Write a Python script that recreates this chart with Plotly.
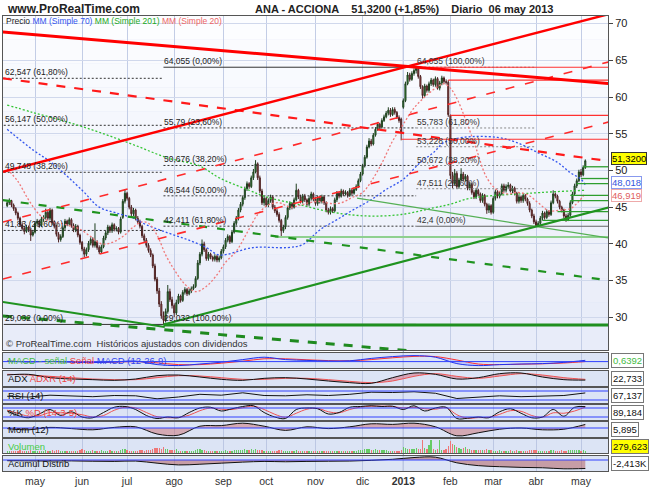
import numpy as np
import pandas as pd
import plotly.graph_objects as go

FONT = "Liberation Sans, Arial, sans-serif"

# ---------------- calendar (trading days, Madrid holidays removed) ----------------
HOLIDAYS = ["2012-05-01", "2012-12-25", "2012-12-26", "2013-01-01",
            "2013-03-29", "2013-04-01", "2013-05-01"]
DATES = pd.bdate_range("2012-04-12", "2013-05-06")
DATES = DATES[~DATES.isin(pd.to_datetime(HOLIDAYS))]
N = len(DATES)
IDX = list(range(N))
MONTH_LABELS = ["may", "jun", "jul", "ago", "sep", "oct", "nov", "dic",
                "<b>2013</b>", "feb", "mar", "abr", "may"]
MONTH_STARTS = [i for i in range(1, N) if DATES[i].month != DATES[i - 1].month]

# ---------------- daily prices ----------------
OPEN = [45.2, 45.6, 45.9, 45.3, 44.8, 44.2, 43.5, 42.6, 42.1, 41.7,
        42.3, 41.9, 41.2, 41.6, 42.8, 43.1, 42.5, 43.4, 43.6, 44.3,
        43.5, 44.6, 42.9, 42.4, 41.3, 40.6, 41.0, 42.2, 43.1, 42.7,
        43.3, 42.5, 41.9, 42.4, 41.2, 40.2, 39.3, 38.6, 39.2, 40.1,
        40.6, 39.8, 40.3, 39.5, 38.9, 39.6, 40.8, 41.5, 42.3, 41.8,
        42.6, 42.0, 42.1, 41.6, 43.6, 45.8, 46.9, 46.2, 45.0, 44.1,
        44.6, 43.5, 43.0, 42.4, 41.1, 40.5, 39.8, 39.1, 38.5, 37.0,
        35.2, 33.6, 31.8, 30.2, 29.6, 30.8, 33.5, 32.4, 31.6, 30.6,
        32.0, 32.9, 32.3, 33.4, 33.8, 33.2, 33.6, 33.9, 34.2, 35.3,
        37.4, 38.6, 40.0, 39.2, 38.0, 38.6, 38.2, 37.9, 38.3, 37.8,
        38.1, 39.0, 39.6, 40.5, 41.0, 40.3, 41.6, 42.8, 43.5, 44.6,
        45.4, 46.3, 47.5, 48.2, 47.8, 49.0, 49.8, 50.9, 49.0, 47.2,
        45.6, 46.2, 45.3, 45.9, 46.4, 45.0, 44.5, 44.0, 43.2, 41.8,
        42.3, 43.6, 44.9, 45.5, 45.0, 46.0, 47.3, 46.4, 45.8, 46.5,
        46.0, 45.4, 46.2, 46.8, 46.1, 45.5, 46.3, 45.8, 46.4, 45.6,
        44.6, 44.3, 44.8, 44.5, 46.0, 46.9, 46.5, 47.2, 46.8, 47.0,
        46.6, 47.3, 46.9, 47.4, 47.8, 48.6, 49.5, 50.6, 51.8, 53.2,
        54.0, 53.6, 54.8, 55.6, 56.3, 55.9, 56.8, 57.3, 57.8, 58.2,
        57.6, 58.3, 57.9, 57.2, 57.0, 58.6, 59.5, 61.8, 63.0, 62.4,
        63.2, 63.6, 63.9, 62.8, 61.4, 60.2, 61.5, 60.9, 61.8, 62.3,
        61.7, 62.5, 61.2, 61.9, 62.6, 62.1, 62.0, 57.5, 49.3, 48.2,
        49.6, 47.8, 48.7, 49.5, 48.8, 49.2, 47.6, 48.1, 47.0, 46.4,
        47.3, 46.8, 45.9, 46.6, 45.4, 44.6, 45.2, 44.3, 46.2, 47.1,
        46.5, 46.8, 47.9, 47.3, 47.8, 48.0, 47.2, 47.6, 46.9, 45.8,
        46.4, 45.9, 46.6, 46.1, 45.5, 44.6, 43.8, 43.0, 42.5, 42.8,
        43.5, 44.2, 43.6, 44.4, 44.0, 45.6, 46.8, 46.5, 45.8, 45.0,
        44.6, 43.8, 43.3, 43.9, 45.6, 46.8, 47.9, 48.6, 49.8, 49.4,
        50.4]
HIGH = [45.9, 46.2, 46.0, 45.5, 45.0, 44.4, 43.7, 42.9, 42.4, 42.6,
        42.5, 42.1, 41.9, 43.1, 43.4, 43.3, 43.7, 43.9, 44.8, 44.5,
        44.9, 44.8, 43.2, 42.6, 41.6, 41.3, 42.5, 43.4, 43.3, 43.6,
        43.5, 42.8, 42.7, 42.6, 41.4, 40.4, 39.6, 39.5, 40.4, 40.9,
        40.9, 42.8, 40.5, 39.8, 39.9, 41.1, 41.8, 42.6, 42.5, 42.9,
        42.8, 42.4, 42.3, 43.7, 46.1, 47.4, 47.1, 46.4, 45.3, 44.9,
        44.8, 43.8, 43.3, 42.6, 41.4, 40.8, 40.1, 39.4, 38.7, 37.3,
        35.5, 34.0, 32.2, 30.8, 31.2, 34.4, 33.9, 32.8, 31.9, 32.4,
        33.2, 33.1, 33.7, 34.1, 34.0, 33.9, 34.2, 34.5, 35.6, 37.8,
        38.9, 40.6, 40.3, 39.4, 38.9, 38.8, 38.4, 38.6, 38.5, 38.4,
        39.3, 39.9, 40.8, 41.3, 41.2, 41.9, 43.1, 43.8, 44.9, 45.7,
        46.6, 47.8, 48.5, 48.4, 49.3, 50.2, 51.4, 51.1, 49.3, 47.5,
        46.5, 46.4, 46.2, 46.7, 46.6, 45.3, 44.8, 44.3, 43.4, 42.6,
        43.9, 45.2, 45.8, 45.7, 46.3, 48.2, 47.5, 46.7, 46.8, 46.8,
        46.2, 46.5, 47.1, 47.0, 46.4, 46.6, 46.5, 46.7, 46.6, 45.8,
        44.9, 45.1, 45.0, 46.3, 47.2, 47.1, 47.5, 47.4, 47.3, 47.2,
        47.6, 47.5, 47.7, 48.1, 48.9, 49.8, 50.9, 52.1, 53.5, 54.4,
        54.3, 55.1, 55.9, 56.6, 56.5, 57.1, 57.6, 58.1, 58.6, 58.5,
        58.6, 58.6, 58.1, 57.5, 57.2, 59.8, 62.1, 63.4, 63.3, 63.5,
        63.9, 64.055, 64.0, 63.0, 61.6, 61.8, 61.7, 62.1, 62.6, 62.5,
        62.8, 62.7, 62.2, 62.9, 62.8, 62.4, 62.3, 57.6, 49.8, 50.2,
        49.9, 49.0, 50.3, 49.8, 49.5, 49.4, 48.4, 48.3, 47.3, 47.6,
        47.5, 47.0, 46.9, 46.8, 45.6, 45.5, 45.4, 46.5, 47.4, 47.3,
        47.1, 48.2, 48.2, 48.1, 48.4, 48.2, 47.9, 47.8, 47.1, 46.7,
        46.6, 46.9, 46.8, 46.3, 45.8, 44.8, 44.1, 43.3, 43.1, 43.8,
        44.5, 44.4, 44.7, 44.6, 45.9, 47.3, 47.0, 46.7, 46.0, 45.2,
        44.8, 44.1, 44.2, 45.9, 47.1, 48.2, 48.9, 50.1, 50.2, 50.7,
        51.5]
LOW = [45.0, 45.3, 45.0, 44.5, 43.9, 43.2, 42.3, 41.8, 41.3, 41.5,
       41.6, 40.4, 41.0, 41.4, 42.5, 42.2, 42.3, 43.0, 43.3, 43.2,
       43.2, 42.6, 42.1, 41.0, 40.2, 40.3, 40.8, 41.9, 42.4, 42.4,
       42.2, 41.6, 41.6, 40.9, 39.9, 39.0, 38.2, 38.3, 38.9, 39.8,
       39.5, 39.5, 39.2, 38.6, 38.7, 39.4, 40.5, 41.2, 41.5, 41.5,
       41.7, 41.7, 41.3, 41.4, 43.4, 45.5, 45.9, 44.7, 43.8, 43.8,
       43.2, 42.7, 42.1, 40.8, 40.2, 39.5, 38.8, 38.2, 36.7, 34.9,
       33.2, 31.4, 29.8, 29.03, 29.3, 30.5, 32.1, 31.2, 30.0, 30.3,
       31.8, 32.0, 32.1, 33.1, 32.9, 33.0, 33.3, 33.7, 34.0, 35.1,
       37.1, 38.3, 38.9, 37.7, 37.7, 37.9, 37.6, 37.6, 37.5, 37.5,
       37.9, 38.7, 39.3, 40.2, 40.0, 40.1, 41.4, 42.5, 43.2, 44.3,
       45.1, 46.0, 47.2, 47.5, 47.6, 48.7, 49.6, 48.7, 46.9, 45.3,
       45.2, 45.0, 45.0, 45.6, 44.7, 44.2, 43.7, 42.9, 41.0, 41.5,
       42.0, 43.3, 44.6, 44.7, 44.8, 45.8, 46.1, 45.5, 45.5, 45.7,
       45.1, 45.1, 45.9, 45.8, 45.2, 45.2, 45.5, 45.5, 45.3, 44.3,
       44.0, 44.0, 44.2, 44.3, 45.7, 46.2, 46.3, 46.5, 46.6, 46.3,
       46.4, 46.6, 46.7, 47.2, 47.6, 48.4, 49.3, 50.4, 51.6, 53.0,
       53.3, 53.4, 54.6, 55.4, 55.6, 55.7, 56.6, 57.1, 57.5, 57.3,
       57.4, 57.6, 57.0, 56.5, 54.1, 58.4, 59.3, 61.6, 62.1, 62.2,
       62.9, 63.2, 62.5, 61.1, 59.8, 60.0, 60.6, 60.6, 61.5, 61.4,
       61.4, 61.0, 60.9, 61.6, 61.8, 61.7, 57.3, 48.8, 47.6, 48.0,
       47.5, 47.5, 48.5, 48.5, 48.5, 47.3, 47.3, 46.7, 46.1, 46.1,
       46.5, 45.6, 45.6, 45.1, 44.1, 44.2, 44.0, 44.1, 45.9, 46.2,
       46.2, 46.6, 47.0, 47.0, 47.5, 47.0, 46.9, 46.6, 45.5, 45.5,
       45.6, 45.6, 45.8, 45.2, 44.3, 43.5, 42.7, 42.4, 42.4, 42.6,
       43.2, 43.3, 43.4, 43.7, 43.8, 45.4, 46.2, 45.5, 44.7, 44.3,
       43.5, 43.0, 43.1, 43.7, 45.4, 46.6, 47.6, 48.4, 49.1, 49.2,
       50.2]
CLOSE = [45.6, 45.9, 45.3, 44.8, 44.2, 43.5, 42.6, 42.1, 41.7, 42.3,
         41.9, 41.2, 41.6, 42.8, 43.1, 42.5, 43.4, 43.6, 44.3, 43.5,
         44.6, 42.9, 42.4, 41.3, 40.6, 41.0, 42.2, 43.1, 42.7, 43.3,
         42.5, 41.9, 42.4, 41.2, 40.2, 39.3, 38.6, 39.2, 40.1, 40.6,
         39.8, 40.3, 39.5, 38.9, 39.6, 40.8, 41.5, 42.3, 41.8, 42.6,
         42.0, 42.1, 41.6, 43.4, 45.8, 46.9, 46.2, 45.0, 44.1, 44.6,
         43.5, 43.0, 42.4, 41.1, 40.5, 39.8, 39.1, 38.5, 37.0, 35.2,
         33.6, 31.8, 30.2, 29.6, 30.8, 33.5, 32.4, 31.6, 30.6, 32.0,
         32.9, 32.3, 33.4, 33.8, 33.2, 33.6, 33.9, 34.2, 35.3, 37.4,
         38.6, 40.0, 39.2, 38.0, 38.6, 38.2, 37.9, 38.3, 37.8, 38.1,
         39.0, 39.6, 40.5, 41.0, 40.3, 41.6, 42.8, 43.5, 44.6, 45.4,
         46.3, 47.5, 48.2, 47.8, 49.0, 49.8, 50.9, 49.0, 47.2, 45.6,
         46.2, 45.3, 45.9, 46.4, 45.0, 44.5, 44.0, 43.2, 41.8, 42.3,
         43.6, 44.9, 45.5, 45.0, 46.0, 47.3, 46.4, 45.8, 46.5, 46.0,
         45.4, 46.2, 46.8, 46.1, 45.5, 46.3, 45.8, 46.4, 45.6, 44.6,
         44.3, 44.8, 44.5, 46.0, 46.9, 46.5, 47.2, 46.8, 47.0, 46.6,
         47.3, 46.9, 47.4, 47.8, 48.6, 49.5, 50.6, 51.8, 53.2, 54.0,
         53.6, 54.8, 55.6, 56.3, 55.9, 56.8, 57.3, 57.8, 58.2, 57.6,
         58.3, 57.9, 57.2, 56.8, 55.2, 59.5, 61.8, 63.0, 62.4, 63.2,
         63.6, 63.9, 62.8, 61.4, 60.2, 61.5, 60.9, 61.8, 62.3, 61.7,
         62.5, 61.2, 61.9, 62.6, 62.1, 62.0, 57.6, 49.3, 48.2, 49.6,
         47.8, 48.7, 49.5, 48.8, 49.2, 47.6, 48.1, 47.0, 46.4, 47.3,
         46.8, 45.9, 46.6, 45.4, 44.6, 45.2, 44.3, 46.2, 47.1, 46.5,
         46.8, 47.9, 47.3, 47.8, 48.0, 47.2, 47.6, 46.9, 45.8, 46.4,
         45.9, 46.6, 46.1, 45.5, 44.6, 43.8, 43.0, 42.5, 42.8, 43.5,
         44.2, 43.6, 44.4, 44.0, 45.6, 46.8, 46.5, 45.8, 45.0, 44.6,
         43.8, 43.3, 43.9, 45.6, 46.8, 47.9, 48.6, 49.8, 49.4, 50.4,
         51.32]
VOLUME = [210, 180, 250, 190, 230, 260, 300, 220, 240, 200,
          280, 320, 210, 190, 230, 260, 180, 200, 310, 240,
          220, 350, 270, 300, 380, 250, 230, 210, 190, 240,
          260, 220, 200, 250, 330, 420, 360, 290, 240, 210,
          300, 230, 210, 280, 350, 240, 220, 260, 300, 210,
          190, 200, 230, 380, 520, 460, 310, 270, 240, 260,
          290, 250, 300, 360, 280, 330, 300, 350, 480, 560,
          620, 540, 480, 700, 460, 520, 380, 300, 340, 420,
          280, 250, 230, 240, 210, 200, 260, 280, 350, 460,
          420, 380, 300, 260, 230, 220, 200, 190, 210, 200,
          260, 240, 300, 280, 230, 290, 330, 310, 360, 340,
          380, 420, 360, 300, 450, 380, 520, 400, 350, 330,
          260, 240, 230, 220, 250, 270, 240, 300, 380, 260,
          240, 260, 280, 230, 250, 310, 270, 220, 200, 210,
          200, 190, 230, 210, 200, 190, 220, 210, 230, 260,
          240, 220, 230, 280, 260, 220, 240, 210, 200, 230,
          250, 220, 240, 280, 320, 360, 400, 450, 520, 480,
          400, 380, 420, 360, 300, 340, 320, 300, 280, 260,
          240, 220, 200, 180, 350, 700, 600, 500, 450, 420,
          500, 600, 450, 480, 1500, 600, 500, 900, 1550, 450,
          400, 420, 1550, 340, 300, 450, 800, 1400, 1100, 900,
          700, 600, 500, 550, 650, 480, 420, 400, 360, 380,
          340, 300, 320, 360, 420, 380, 300, 280, 260, 240,
          300, 280, 250, 240, 260, 300, 280, 260, 320, 290,
          270, 250, 230, 280, 320, 300, 360, 330, 280, 260,
          240, 230, 250, 220, 300, 340, 280, 260, 240, 300,
          280, 260, 300, 340, 360, 320, 300, 340, 280, 300,
          279.6]

# ---------------- moving averages (read at sampled bars) ----------------
MA70_X = [0, 12, 21, 35, 43, 51, 59, 65, 75, 84, 93, 99, 115, 131, 138, 146,
          154, 162, 170, 177, 185, 193, 199, 204, 213, 229, 238, 248, 257, 263, 268, 270]
MA70_Y = [55.6, 52.8, 51.0, 47.3, 45.0, 44.2, 43.5, 42.6, 41.5, 40.6, 39.5, 38.5,
          39.5, 39.5, 39.9, 41.9, 43.3, 44.7, 46.0, 47.4, 48.8, 51.1, 52.4, 53.8,
          54.5, 54.5, 53.8, 52.4, 51.1, 49.7, 48.8, 48.02]
MA201_X = [0, 12, 28, 43, 59, 75, 90, 99, 113, 121, 137, 152, 168, 184, 199, 207, 216, 244, 270]
MA201_Y = [58.9, 57.9, 56.6, 55.2, 53.5, 51.7, 50.6, 49.0, 47.3, 46.4, 45.3, 44.3,
           43.8, 44.0, 44.9, 45.4, 46.2, 46.9, 47.3]
MA20_X = [0, 5, 10, 15, 20, 25, 30, 34, 39, 44, 49, 54, 59, 63, 66, 70, 74, 78, 83,
          88, 93, 98, 102, 107, 112, 117, 122, 127, 132, 136, 141, 146, 151, 156,
          161, 166, 170, 175, 180, 185, 190, 195, 200, 204, 207, 210, 214, 219,
          224, 229, 234, 238, 243, 248, 253, 258, 263, 267, 270]
MA20_Y = [50.2, 48.5, 46.0, 44.0, 43.0, 42.8, 42.4, 42.0, 41.0, 40.0, 40.2, 41.0,
          42.3, 43.0, 42.8, 41.2, 38.5, 36.5, 34.5, 33.5, 34.2, 35.8, 37.5, 39.0,
          41.5, 44.0, 45.3, 45.6, 45.0, 45.2, 45.6, 45.8, 45.5, 45.6, 46.3, 47.0,
          48.5, 51.0, 54.0, 56.3, 58.5, 60.0, 61.2, 61.8, 61.2, 59.8, 57.0, 53.0,
          49.0, 47.3, 46.8, 47.0, 46.7, 45.6, 44.5, 44.6, 44.8, 45.8, 46.9]

# ---------------- drawn trend lines (endpoints: bar index, price) ----------------
RED_DESC_X, RED_DESC_Y = [-2, 281], [68.86, 61.83]
RED_ASC_X, RED_ASC_Y = [-2, 281], [49.81, 71.29]
RED_DDESC_X, RED_DDESC_Y = [-2, 281], [62.55, 51.27]
RED_DASC1_X, RED_DASC1_Y = [-2, 281], [42.97, 64.79]
RED_DASC2_X, RED_DASC2_Y = [-2, 281], [35.21, 56.60]
RED_HLINES = [64.05, 62.3, 57.5, 54.25]
RED_HLINES_X0 = [197, 206, 207, 184]
GRN_ASC_X, GRN_ASC_Y = [73, 281], [29.03, 44.97]
GRN_FLOOR_X, GRN_FLOOR_Y = [73, 281], [28.95, 28.95]
GRN_LDESC_X, GRN_LDESC_Y = [-2, 73.6], [32.08, 28.68]
GRN_DLOW_X, GRN_DLOW_Y = [-2, 190], [30.18, 25.40]
GRN_DMID_X, GRN_DMID_Y = [-2, 281], [45.96, 35.04]
GRN_THIN_X, GRN_THIN_Y = [163.4, 281], [46.23, 40.79]
GRN_LIGHT_X, GRN_LIGHT_Y = [125, 281], [40.92, 40.92]
GRN_HLINES = [50.5, 48.9, 48.2, 46.6, 45.9, 44.4, 43.2]
GRN_HLINES_X0 = [269, 268, 266, 263, 263, 257, 250]

# ---------------- Fibonacci retracements ----------------
FIB1_LEVELS = [64.055, 55.79, 50.676, 46.544, 42.411, 29.032]
FIB1_LABELS = ["64,055 (0,00%)", "55,79 (23,60%)", "50,676 (38,20%)",
               "46,544 (50,00%)", "42,411 (61,80%)", "29,032 (100,00%)"]
FIB1_X = [73, 191]
FIB2_LEVELS = [64.055, 55.783, 53.228, 50.672, 47.511, 42.4]
FIB2_LABELS = ["64,055 (100,00%)", "55,783 (61,80%)", "53,228 (50,00%)",
               "50,672 (38,20%)", "47,511 (23,60%)", "42,4 (0,00%)"]
FIB2_X = [191, 247]
FIB3_LEVELS = [62.547, 56.147, 49.748, 41.83, 29.032]
FIB3_LABELS = ["62,547 (61,80%)", "56,147 (50,00%)", "49,748 (38,20%)",
               "41,83 (23,60%)", "29,032 (0,00%)"]
FIB3_X = [-1.6, 73]

# ---------------- indicators (read at sampled bars) ----------------
IND_X = list(range(0, 271, 10))
MACD_LINE = [0.3, -0.2, 0.1, -0.3, -0.5, -0.2, 0.3, -1.5, -2.0, -1.2, -0.3, 1.0, 2.2, 1.0,
             0.6, 0.3, 0.4, 1.6, 2.5, 3.0, 2.2, -1.0, -2.0, -1.5, -1.2, -1.0, -0.4, 0.64]
MACD_SIGNAL = [0.2, 0.0, 0.0, -0.1, -0.3, -0.3, 0.0, -0.6, -1.5, -1.5, -0.8, 0.2, 1.4, 1.4,
               0.9, 0.5, 0.4, 1.0, 1.9, 2.6, 2.5, 0.8, -1.2, -1.5, -1.3, -1.1, -0.7, 0.0]
ADX = [38, 40, 30, 26, 24, 22, 26, 36, 38, 32, 25, 22, 28, 30, 26, 20, 15, 13, 30, 44,
       40, 26, 30, 42, 44, 32, 24, 22.7]
ADXR = [40, 38, 34, 30, 26, 24, 24, 30, 36, 35, 30, 25, 25, 28, 28, 24, 19, 15, 20, 34,
        42, 34, 28, 35, 42, 38, 30, 25]
RSI = [45, 40, 52, 45, 42, 50, 48, 28, 40, 58, 52, 68, 50, 48, 55, 50, 58, 72, 70, 75,
       65, 30, 38, 48, 42, 45, 50, 67.1]
MOM = [-1, -3, 1, -1, -3, 1, 2, -10, -12, 3, 4, 8, 3, -4, 2, -1, 2, 7, 6, 8, 2, -13,
       -8, -2, 0, -3, -2, 5.9]
ACC_DIST = [-200, -250, -300, -250, -350, -400, -300, -900, -1400, -1200, -900, -600,
            -400, -500, -400, -350, -300, -100, 200, 700, 800, -800, -1600, -1900,
            -2100, -2200, -2500, -2413]
K_X = list(range(0, 271, 5))
STOCH_K = [60, 30, 15, 40, 70, 30, 55, 20, 15, 50, 85, 90, 70, 30, 10, 20, 15, 50, 80, 85,
           60, 75, 90, 95, 50, 20, 10, 70, 80, 75, 40, 50, 85, 90, 95, 90, 92, 70, 95, 60,
           80, 85, 10, 12, 20, 15, 55, 75, 45, 15, 20, 70, 25, 85, 89.2]
STOCH_D = [65, 45, 25, 28, 50, 48, 45, 35, 20, 30, 65, 85, 80, 50, 22, 15, 17, 32, 62, 80,
           72, 70, 82, 92, 70, 38, 18, 45, 72, 78, 55, 48, 70, 86, 92, 92, 90, 80, 85, 75,
           72, 82, 35, 12, 16, 18, 38, 62, 58, 30, 18, 48, 45, 60, 86]

SUB_VALUES = ["0,6392", "22,733", "67,137", "89,184", "5,895", "279,623", "-2,413K"]

# ---------------- geometry ----------------
W, H = 650, 490
ML, MR, MT, MB = 3, 42, 16, 19
PH = H - MT - MB   # 455


def py(px):  # pixel y -> paper y
    return (H - MB - px) / PH


MAIN_DOM = [py(350), 1.0]
SUB_PX = [(353, 368), (371, 386), (388, 403), (405, 420), (422, 437), (439, 453), (456, 471)]
SUB_RANGES = [[-3.2, 4.3], [5, 50], [0, 100], [0, 100], [-15, 10], [0, 1650], [-3124, 1136]]
XR = [-1.95, 280.6]

fig = go.Figure()


def add_line(x, y, color, width=1, dash="solid", ax="", shape="linear"):
    fig.add_trace(go.Scatter(x=x, y=y, mode="lines", hoverinfo="skip",
                             line=dict(color=color, width=width, dash=dash, shape=shape),
                             xaxis="x" + ax, yaxis="y" + ax, showlegend=False))


# fib lines
for lv in FIB3_LEVELS:
    add_line(FIB3_X, [lv, lv], "#333333", 1, "solid" if lv < 30 else "2px,2px")
for lv in FIB1_LEVELS:
    add_line(FIB1_X, [lv, lv], "#333333", 1, "solid" if lv in (64.055, 29.032) else "2px,2px")
for lv in FIB2_LEVELS:
    if lv == 42.4:
        add_line([FIB2_X[0], 281], [lv, lv], "#666666", 1)
    else:
        add_line(FIB2_X, [lv, lv], "#888888", 1, "2px,2px")

# moving averages
add_line(MA201_X, MA201_Y, "#33c433", 1.3, "2px,2px", shape="spline")
add_line(MA70_X, MA70_Y, "#3355ee", 1.3, "2px,2px", shape="spline")
add_line(MA20_X, MA20_Y, "#f07878", 1.3, "2px,2px", shape="spline")

# green lines (under candles)
add_line(GRN_LIGHT_X, GRN_LIGHT_Y, "#8fd08f", 2)
add_line(GRN_THIN_X, GRN_THIN_Y, "#55b055", 1.3)
for lv, x0 in zip(GRN_HLINES, GRN_HLINES_X0):
    add_line([x0, 281], [lv, lv], "#2e9e2e", 1.3)

# candles
fig.add_trace(go.Candlestick(
    x=IDX, open=OPEN, high=HIGH, low=LOW, close=CLOSE, xaxis="x", yaxis="y",
    whiskerwidth=0, hoverinfo="skip", showlegend=False,
    increasing=dict(line=dict(color="#1e3e1e", width=1), fillcolor="#3aa83a"),
    decreasing=dict(line=dict(color="#4a2020", width=1), fillcolor="#c85a5a")))

# trend lines (above candles)
add_line(GRN_FLOOR_X, GRN_FLOOR_Y, "#1f8f1f", 3)
add_line(GRN_ASC_X, GRN_ASC_Y, "#1f931f", 2.2)
add_line(GRN_LDESC_X, GRN_LDESC_Y, "#1f931f", 2)
add_line(GRN_DLOW_X, GRN_DLOW_Y, "#1f8a1f", 3, "9px,9px")
add_line(GRN_DMID_X, GRN_DMID_Y, "#1f931f", 2.2, "8px,10px")
for lv, x0 in zip(RED_HLINES, RED_HLINES_X0):
    add_line([x0, 281], [lv, lv], "#ff3030", 1.2)
add_line(RED_DDESC_X, RED_DDESC_Y, "#ff1a1a", 2.2, "9px,9px")
add_line(RED_DASC1_X, RED_DASC1_Y, "#ff2a2a", 1.6, "9px,11px")
add_line(RED_DASC2_X, RED_DASC2_Y, "#ff2a2a", 1.6, "9px,11px")
add_line(RED_DESC_X, RED_DESC_Y, "#ff0000", 3)
add_line(RED_ASC_X, RED_ASC_Y, "#ff0000", 2.4)

# ---------------- sub panels ----------------
BLUE = "#3040ff"
add_line(IND_X, MACD_SIGNAL, "#ff3333", 1, ax="2", shape="spline")
fig.add_trace(go.Scatter(x=IND_X, y=MACD_LINE, mode="lines", fill="tonexty",
                         fillcolor="rgba(140,150,255,0.35)", line=dict(color="#2233ee", width=1, shape="spline"),
                         xaxis="x2", yaxis="y2", hoverinfo="skip", showlegend=False))
add_line(IND_X, ADXR, "#ee5555", 1, ax="3", shape="spline")
fig.add_trace(go.Scatter(x=IND_X, y=ADX, mode="lines", fill="tonexty",
                         fillcolor="rgba(210,90,110,0.45)", line=dict(color="#111111", width=1, shape="spline"),
                         xaxis="x3", yaxis="y3", hoverinfo="skip", showlegend=False))
add_line(IND_X, RSI, "#111111", 1, ax="4")
add_line(K_X, STOCH_D, "#ee5555", 1, ax="5", shape="spline")
add_line(K_X, STOCH_K, "#111111", 1, ax="5", shape="spline")
fig.add_trace(go.Scatter(x=IND_X, y=MOM, mode="lines", fill="tozeroy",
                         fillcolor="rgba(200,80,80,0.40)", line=dict(color="#111111", width=1, shape="spline"),
                         xaxis="x6", yaxis="y6", hoverinfo="skip", showlegend=False))
vol_colors = ["#66cc66" if c >= o else "#ee7777" for o, c in zip(OPEN, CLOSE)]
fig.add_trace(go.Bar(x=IDX, y=VOLUME, marker=dict(color=vol_colors, line=dict(width=0)),
                     width=0.6, xaxis="x7", yaxis="y7", hoverinfo="skip", showlegend=False))
fig.add_trace(go.Scatter(x=IND_X, y=ACC_DIST, mode="lines", fill="tozeroy",
                         fillcolor="rgba(170,70,70,0.45)", line=dict(color="#111111", width=1, shape="spline"),
                         xaxis="x8", yaxis="y8", hoverinfo="skip", showlegend=False))

# ---------------- layout ----------------
shapes = []
nb = 14
y0, y1 = MAIN_DOM
for k in range(nb):
    t = k / (nb - 1)
    r = int(252 - 20 * t); g = int(253 - 17 * t); b = int(255 - 6 * t)
    shapes.append(dict(type="rect", xref="paper", yref="paper", x0=0, x1=1,
                       y0=y1 - (k + 1) * (y1 - y0) / nb, y1=y1 - k * (y1 - y0) / nb,
                       fillcolor=f"rgb({r},{g},{b})", line=dict(width=0), layer="below"))
for ax, lv in [("y2", 0), ("y4", 80), ("y4", 20), ("y5", 80), ("y5", 20), ("y6", 0), ("y8", 0)]:
    shapes.append(dict(type="line", xref="paper", yref=ax, x0=0, x1=1, y0=lv, y1=lv,
                       line=dict(color=BLUE, width=1)))
shapes.append(dict(type="line", xref="x", yref="paper", x0=MONTH_STARTS[8], x1=MONTH_STARTS[8],
                   y0=0, y1=1, line=dict(color="#8c98bc", width=1), layer="below"))

ann = []
ann.append(dict(xref="paper", yref="paper", x=0.0, y=py(9), xanchor="left", yanchor="middle",
                xshift=2, showarrow=False, text="<b>www.ProRealTime.com</b>",
                font=dict(family=FONT, size=12, color="#222")))
ann.append(dict(xref="paper", yref="paper", x=(253 - ML) / 605, y=py(9), xanchor="left",
                yanchor="middle", showarrow=False,
                text="<b>ANA - ACCIONA&nbsp;&nbsp;&nbsp;&nbsp;51,3200 (+1,85%)&nbsp;&nbsp;&nbsp;&nbsp;Diario&nbsp;&nbsp;06 may 2013</b>",
                font=dict(family=FONT, size=11, color="#222")))
ann.append(dict(xref="paper", yref="paper", x=0.0, y=py(21), xanchor="left", yanchor="middle",
                xshift=1, showarrow=False,
                text='Precio <span style="color:#3355ee">MM (Simple 70)</span> '
                     '<span style="color:#22aa22">MM (Simple 201)</span> '
                     '<span style="color:#ee6666">MM (Simple 20)</span>',
                font=dict(family=FONT, size=8.5, color="#222")))
ann.append(dict(xref="paper", yref="paper", x=0.0, y=py(343), xanchor="left", yanchor="middle",
                xshift=1, showarrow=False,
                text="© ProRealTime.com&nbsp;&nbsp;Históricos ajustados con dividendos",
                font=dict(family=FONT, size=9.5, color="#333")))

for levels, labels, xs, col in [(FIB1_LEVELS, FIB1_LABELS, FIB1_X, "#222"),
                                 (FIB2_LEVELS, FIB2_LABELS, FIB2_X, "#333"),
                                 (FIB3_LEVELS, FIB3_LABELS, FIB3_X, "#222")]:
    for lv, lb in zip(levels, labels):
        ann.append(dict(xref="x", yref="y", x=xs[0], y=lv, xanchor="left", yanchor="bottom",
                        showarrow=False, text=lb, borderpad=0,
                        font=dict(family=FONT, size=8.5, color=col)))

for val, txt, fg, bg, bc, ys in [(51.32, "51,3200", "#000", "#ffff00", "#333", 2),
                                 (48.018, "48,018", "#3355dd", "#ffffff", "#8899ee", 3),
                                 (46.919, "46,919", "#e06060", "#ffffff", "#eeaaaa", -2)]:
    ann.append(dict(xref="paper", yref="y", x=1.0, y=val, xanchor="left", yanchor="middle",
                    xshift=3, yshift=ys, showarrow=False, text=txt, bgcolor=bg, bordercolor=bc,
                    borderwidth=1, borderpad=0, font=dict(family=FONT, size=9.5, color=fg)))

SUB_LABELS = [
    '<span style="color:#44bb44">MACD - señal</span> <span style="color:#ee4444">Señal</span> '
    '<span style="color:#3344ee">MACD (12-26-9)</span>',
    'ADX <span style="color:#ee4444">ADXR (14)</span>',
    'RSI (14)',
    '%K <span style="color:#ee4444">%D (14-3-5)</span>',
    'Mom (12)',
    '<span style="color:#44cc44">Volumen</span>',
    'Acumul Distrib',
]
SUB_FG = ["#44bb44", "#111", "#111", "#111", "#111", "#111", "#111"]
SUB_BG = ["#ffffff"] * 5 + ["#ffff00", "#ffffff"]
for k, (pt, pb) in enumerate(SUB_PX):
    yc = py((pt + pb) / 2)
    ann.append(dict(xref="paper", yref="paper", x=0.0, y=yc, xanchor="left", yanchor="middle",
                    xshift=3, showarrow=False, text=SUB_LABELS[k],
                    font=dict(family=FONT, size=9.5, color="#111")))
    ann.append(dict(xref="paper", yref="paper", x=1.0, y=yc, xanchor="left", yanchor="middle",
                    xshift=3, showarrow=False, text=SUB_VALUES[k], bgcolor=SUB_BG[k],
                    bordercolor="#777", borderwidth=1, borderpad=1,
                    font=dict(family=FONT, size=9.5, color=SUB_FG[k])))

layout = dict(
    width=W, height=H, margin=dict(l=ML, r=MR, t=MT, b=MB, pad=0),
    paper_bgcolor="#ffffff", plot_bgcolor="#dce4f5",
    font=dict(family=FONT, size=10, color="#222"),
    showlegend=False, shapes=shapes, annotations=ann, bargap=0,
    xaxis=dict(domain=[0, 1], anchor="y", range=XR, rangeslider=dict(visible=False),
               tickvals=MONTH_STARTS, showticklabels=False, ticks="", showgrid=True,
               gridcolor="#c3cde6", gridwidth=1, showline=True, mirror=True,
               linecolor="#555", linewidth=1, zeroline=False, fixedrange=True),
    yaxis=dict(domain=MAIN_DOM, anchor="x", range=[25.55, 71.03], side="right",
               tickvals=[30, 35, 40, 45, 50, 55, 60, 65, 70], ticks="outside", ticklen=4,
               tickcolor="#444", tickfont=dict(family=FONT, size=11, color="#222"),
               showgrid=True, gridcolor="#d0d8ec", showline=True, mirror=True,
               linecolor="#555", linewidth=1, zeroline=False, fixedrange=True),
)
for k in range(2, 9):
    pt, pb = SUB_PX[k - 2]
    layout[f"xaxis{k}"] = dict(domain=[0, 1], anchor=f"y{k}", matches="x", range=XR,
                               tickvals=MONTH_STARTS, ticktext=MONTH_LABELS,
                               showticklabels=(k == 8), ticks="",
                               tickfont=dict(family=FONT, size=10.5, color="#333"),
                               showgrid=True, gridcolor="#bcc7e3", showline=True, mirror=True,
                               linecolor="#555", linewidth=1, zeroline=False, fixedrange=True)
    layout[f"yaxis{k}"] = dict(domain=[py(pb), py(pt)], anchor=f"x{k}", range=SUB_RANGES[k - 2],
                               showticklabels=False, ticks="", showgrid=False, zeroline=False,
                               showline=True, mirror=True, linecolor="#555", linewidth=1,
                               fixedrange=True)

fig.update_layout(**layout)
fig.write_html("out.html", config={"displayModeBar": False, "staticPlot": True},
               post_script="document.body.style.margin='0px';document.body.style.overflow='hidden';")
